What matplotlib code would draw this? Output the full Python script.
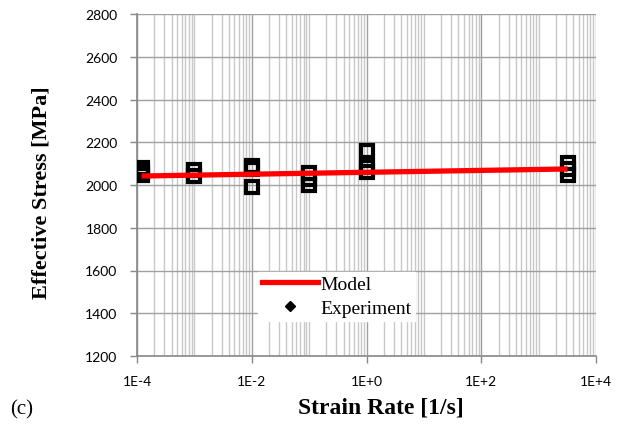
import matplotlib
matplotlib.use("Agg")
import matplotlib.pyplot as plt
from matplotlib.lines import Line2D
from matplotlib.ticker import LogLocator, FixedLocator, NullFormatter

# Data
exp_rate = [1.2e-4, 1.2e-4, 1.2e-4,
            1e-3, 1e-3,
            1e-2, 1e-2, 1e-2,
            1e-1, 1e-1, 1e-1,
            1e0, 1e0, 1e0,
            3.2e3, 3.2e3, 3.2e3]
exp_stress = [2045, 2060, 2080,
              2040, 2072,
              1990, 2075, 2088,
              2000, 2030, 2055,
              2060, 2085, 2160,
              2047, 2075, 2103]
model_rate = [1.2e-4, 3.2e3]
model_stress = [2042, 2075]

xtick_vals = [1e-4, 1e-2, 1e0, 1e2, 1e4]
xtick_labels = ["1E-4", "1E-2", "1E+0", "1E+2", "1E+4"]
ytick_vals = [1200, 1400, 1600, 1800, 2000, 2200, 2400, 2600, 2800]

fig = plt.figure(figsize=(6.17, 4.35), dpi=100)
ax = fig.add_axes([137/617, 1-357/435, (596-137)/617, (357-15)/435])

ax.set_xscale("log")
ax.set_xlim(1e-4, 1e4)
ax.set_ylim(1200, 2800)

ax.plot(model_rate, model_stress, color="#ff0000", lw=3.8, solid_capstyle="butt", zorder=4)
ax.plot(exp_rate, exp_stress, linestyle="none", marker="s", markersize=8.5,
        markerfacecolor="none", markeredgecolor="black", markeredgewidth=3.0, zorder=3)

ax.xaxis.set_major_locator(FixedLocator(xtick_vals))
ax.set_xticklabels(xtick_labels)
ax.xaxis.set_minor_locator(LogLocator(base=10, subs=[1, 2, 3, 4, 5, 6, 7, 8, 9], numticks=100))
ax.xaxis.set_minor_formatter(NullFormatter())
ax.set_yticks(ytick_vals)

ax.grid(True, which="major", color="#a0a0a0", lw=1.0)
ax.grid(True, which="minor", axis="x", color="#c8c8c8", lw=1.0)
ax.set_axisbelow(True)

for s in ["top", "right"]:
    ax.spines[s].set_visible(False)
for s in ["left", "bottom"]:
    ax.spines[s].set_color("#888888")
    ax.spines[s].set_linewidth(1.2)

ax.tick_params(axis="both", which="major", direction="out", length=5, width=1,
               color="#888888", labelsize=10, labelcolor="black")
ax.tick_params(axis="x", which="major", pad=9)
ax.tick_params(axis="y", which="major", pad=9)
ax.tick_params(axis="x", which="minor", length=0)
for lab in ax.get_xticklabels() + ax.get_yticklabels():
    lab.set_family("Lato")

ax.set_xlabel("Strain Rate [1/s]", fontsize=17, fontweight="bold", family="Liberation Serif")
ax.xaxis.set_label_coords((381-137)/459, -(398-357)/342)
ax.set_ylabel("Effective Stress [MPa]", fontsize=16, fontweight="bold", family="Liberation Serif")
ax.yaxis.set_label_coords(-(137-52)/459, (357-193)/342)

handles = [Line2D([0], [0], color="#ff0000", lw=3.8),
           Line2D([0], [0], linestyle="none", marker="D", markersize=5,
                  markerfacecolor="black", markeredgecolor="black")]
leg = ax.legend(handles, ["Model", "Experiment"], loc="upper left",
                bbox_to_anchor=((248-137)/459, (357-263)/342), frameon=True,
                prop={"family": "Liberation Serif", "size": 14},
                handlelength=2.9, handletextpad=0.1, borderpad=0.2, labelspacing=0.3,
                fancybox=False, edgecolor="white", framealpha=1)

fig.text(10/617, 1-410/435, "(c)", fontsize=15, family="Liberation Serif", va="center")

fig.savefig("out.png", dpi=100)
